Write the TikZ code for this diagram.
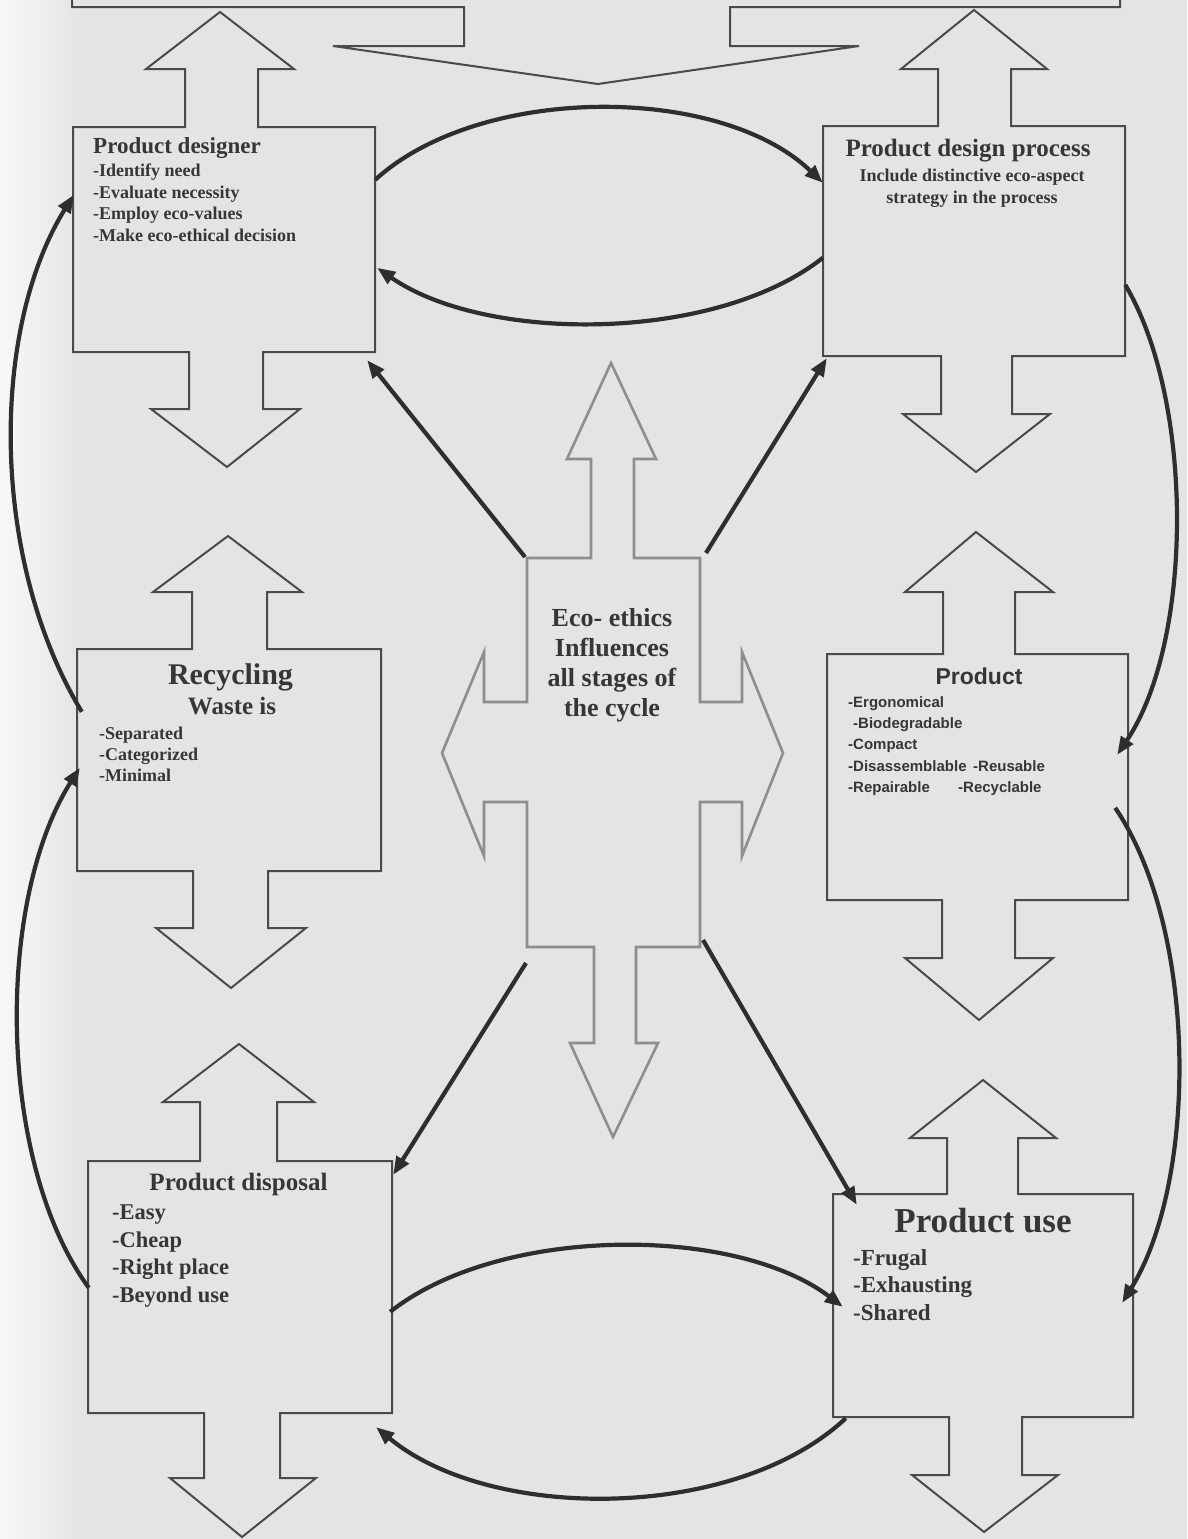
\documentclass[tikz,border=0pt]{standalone}
\usepackage{fontspec}
\setmainfont{Liberation Serif}
\newfontfamily\sansbold{Liberation Sans}
\usetikzlibrary{arrows.meta,calc}
\definecolor{paper}{HTML}{E4E4E2}
\definecolor{ink}{HTML}{363636}
\definecolor{frame}{HTML}{4A4A4A}
\definecolor{crossgray}{HTML}{8E8E8E}
\definecolor{flowink}{HTML}{2E2E2E}
\newcommand\fsz[2]{\fontsize{#1}{#2}\selectfont\bfseries}
\begin{document}
\begin{tikzpicture}[x=1pt,y=-1pt,
  outline/.style={draw=frame, line width=2pt, line join=miter},
  crossline/.style={draw=crossgray, line width=2.6pt, line join=miter},
  flow/.style={draw=flowink, line width=4.2pt, -{Triangle[length=18pt,width=14pt]}},
  box/.style={draw=none, inner sep=0pt},
  txt/.style={inner sep=0pt, text=ink}]
\useasboundingbox (0,0) rectangle (1187,1539);
% paper
\fill[paper] (0,0) rectangle (1187,1539);
\shade[left color=white!75!paper, right color=paper] (0,0) rectangle (80,1539);

% box frames (geometry only)
\node[box, minimum width=302pt, minimum height=225pt] (pd)   at (224,239.5) {};
\node[box, minimum width=302pt, minimum height=230pt] (pdp)  at (974,241) {};
\node[box, minimum width=304pt, minimum height=222pt] (rec)  at (229,760) {};
\node[box, minimum width=301pt, minimum height=246pt] (prod) at (977.5,777) {};
\node[box, minimum width=304pt, minimum height=252pt] (disp) at (240,1287) {};
\node[box, minimum width=300pt, minimum height=223pt] (use)  at (983,1305.5) {};

% top boxes joined by a downward notch
\draw[outline] (72,-3) -- (72,7) -- (464,7) -- (464,46) -- (333,46) -- (598,84)
  -- (859,46) -- (730,46) -- (730,7) -- (1120,7) -- (1120,-3);

% product designer
\draw[outline] (73,127) -- (185,127) -- (185,69) -- (146,69) -- (220,12) -- (294,69)
  -- (258,69) -- (258,127) -- (375,127) -- (375,352) -- (263,352) -- (263,409)
  -- (300,409) -- (227,467) -- (151,409) -- (189,409) -- (189,352) -- (73,352) -- cycle;
% product design process
\draw[outline] (823,126) -- (938,126) -- (938,69) -- (901,69) -- (974,10) -- (1047,69)
  -- (1011,69) -- (1011,126) -- (1125,126) -- (1125,356) -- (1012,356) -- (1012,414)
  -- (1050,414) -- (976,472) -- (903,414) -- (941,414) -- (941,356) -- (823,356) -- cycle;
% recycling
\draw[outline] (77,649) -- (192,649) -- (192,592) -- (153,592) -- (228,536) -- (302,592)
  -- (267,592) -- (267,649) -- (381,649) -- (381,871) -- (268,871) -- (268,928)
  -- (306,928) -- (231,988) -- (156,928) -- (193,928) -- (193,871) -- (77,871) -- cycle;
% product
\draw[outline] (827,654) -- (943,654) -- (943,592) -- (905,592) -- (976,532) -- (1053,592)
  -- (1015,592) -- (1015,654) -- (1128,654) -- (1128,900) -- (1015,900) -- (1015,958)
  -- (1053,958) -- (979,1020) -- (905,958) -- (942,958) -- (942,900) -- (827,900) -- cycle;
% product disposal
\draw[outline] (88,1161) -- (200,1161) -- (200,1102) -- (163,1102) -- (239,1044) -- (314,1102)
  -- (277,1102) -- (277,1161) -- (392,1161) -- (392,1413) -- (280,1413) -- (280,1478)
  -- (316,1478) -- (242,1537) -- (170,1478) -- (204,1478) -- (204,1413) -- (88,1413) -- cycle;
% product use
\draw[outline] (833,1194) -- (947,1194) -- (947,1138) -- (910,1138) -- (983,1080) -- (1056,1138)
  -- (1018,1138) -- (1018,1194) -- (1133,1194) -- (1133,1417) -- (1022,1417) -- (1022,1475)
  -- (1058,1475) -- (984,1532) -- (912,1475) -- (949,1475) -- (949,1417) -- (833,1417) -- cycle;

% central four-way arrow
\draw[crossline] (527,558) -- (591,558) -- (591,459) -- (567,459) -- (611,363) -- (656,459)
  -- (634,459) -- (634,558) -- (700,558) -- (700,702) -- (742,702) -- (742,652) -- (783,753)
  -- (742,856) -- (742,802) -- (700,802) -- (700,947) -- (636,947) -- (636,1043) -- (658,1043)
  -- (613,1137) -- (570,1043) -- (594,1043) -- (594,947) -- (527,947) -- (527,802) -- (484,802)
  -- (484,856) -- (442,753) -- (484,652) -- (484,702) -- (527,702) -- cycle;
\coordinate (ctl) at (525,557);
\coordinate (ctr) at (706,553);
\coordinate (cbl) at (526,963);
\coordinate (cbr) at (703,940);

% texts
\node[txt, anchor=north west, font=\fsz{23}{27}] (pdT) at (93,137.2) {Product designer};
\node[txt, anchor=north west, align=left, font=\fsz{18}{21.7}] (pdL) at (93,163.6)
  {-Identify need\\-Evaluate necessity\\-Employ eco-values\\-Make eco-ethical decision};

\node[txt, anchor=north, font=\fsz{25}{29}] (pdpT) at (968,139) {Product design process};
\node[txt, anchor=north, align=center, font=\fsz{18}{22}] (pdpS) at (972,168.6)
  {Include distinctive eco-aspect\\strategy in the process};

\node[txt, anchor=north, font=\fsz{30}{34}] (recT) at (230.5,663.3) {Recycling};
\node[txt, anchor=north, font=\fsz{25}{29}] (recW) at (232,697) {Waste is};
\node[txt, anchor=north west, align=left, font=\fsz{18}{21}] (recL) at (99,726.6)
  {-Separated\\-Categorized\\-Minimal};

\node[txt, anchor=north, font=\sansbold\fsz{23}{27}] (prodT) at (979,667.4) {Product};
\node[txt, anchor=north west, align=left, font=\sansbold\fsz{15}{21.2}] (prodL) at (848,696.5)
  {-Ergonomical\\\hspace*{5pt}-Biodegradable\\-Compact\\\makebox[125pt][l]{-Disassemblable}-Reusable\\\makebox[110pt][l]{-Repairable}-Recyclable};

\node[txt, anchor=north, font=\fsz{25}{29}] (dispT) at (238.5,1173) {Product disposal};
\node[txt, anchor=north west, align=left, font=\fsz{22.5}{27.7}] (dispL) at (112,1204.5)
  {-Easy\\-Cheap\\-Right place\\-Beyond use};

\node[txt, anchor=north, font=\fsz{35}{39}] (useT) at (983,1208.4) {Product use};
\node[txt, anchor=north west, align=left, font=\fsz{23}{27.5}] (useL) at (853,1249)
  {-Frugal\\-Exhausting\\-Shared};

\node[txt, anchor=north, align=center, font=\fsz{26}{30}] (eco) at (612,607.8)
  {Eco- ethics\\Influences\\all stages of\\the cycle};

% influence arrows
\draw[flow] ([yshift=-53pt]pd.north east) .. controls (480,84) and (720,84) .. ([yshift=-57pt]pdp.north west);
\draw[flow] ([yshift=-132pt]pdp.north west) .. controls (715,343) and (485,343) .. ([xshift=2pt,yshift=-141pt]pd.north east);
\draw[flow] (ctl) -- ([xshift=-8pt,yshift=-8pt]pd.south east);
\draw[flow] (ctr) -- ([xshift=4pt,yshift=-2pt]pdp.south west);
\draw[flow] (cbl) -- ([xshift=1pt,yshift=-14pt]disp.north east);
\draw[flow] (cbr) -- ([xshift=24pt,yshift=-11pt]use.north west);
\draw[flow] ([xshift=-2pt,yshift=-151pt]disp.north east) .. controls (500,1225) and (735,1225) .. ([xshift=10pt,yshift=-113pt]use.north west);
\draw[flow] ([xshift=13pt,yshift=-1pt]use.south west) .. controls (735,1522) and (490,1522) .. ([xshift=-16pt,yshift=-14pt]disp.south east);
\draw[flow] ([xshift=1pt,yshift=-127pt]disp.north west) .. controls (-4,1160) and (-4,900) .. ([xshift=3pt,yshift=-119pt]rec.north west);
\draw[flow] ([xshift=5pt,yshift=-63pt]rec.north west) .. controls (-10,560) and (-10,330) .. ([xshift=1pt,yshift=-68pt]pd.north west);
\draw[flow] ([yshift=-159pt]pdp.north east) .. controls (1194,400) and (1194,640) .. ([xshift=-11pt,yshift=-101pt]prod.north east);
\draw[flow] ([xshift=-13pt,yshift=-154pt]prod.north east) .. controls (1198,930) and (1198,1180) .. ([xshift=-11pt,yshift=-109pt]use.north east);
\end{tikzpicture}
\end{document}
